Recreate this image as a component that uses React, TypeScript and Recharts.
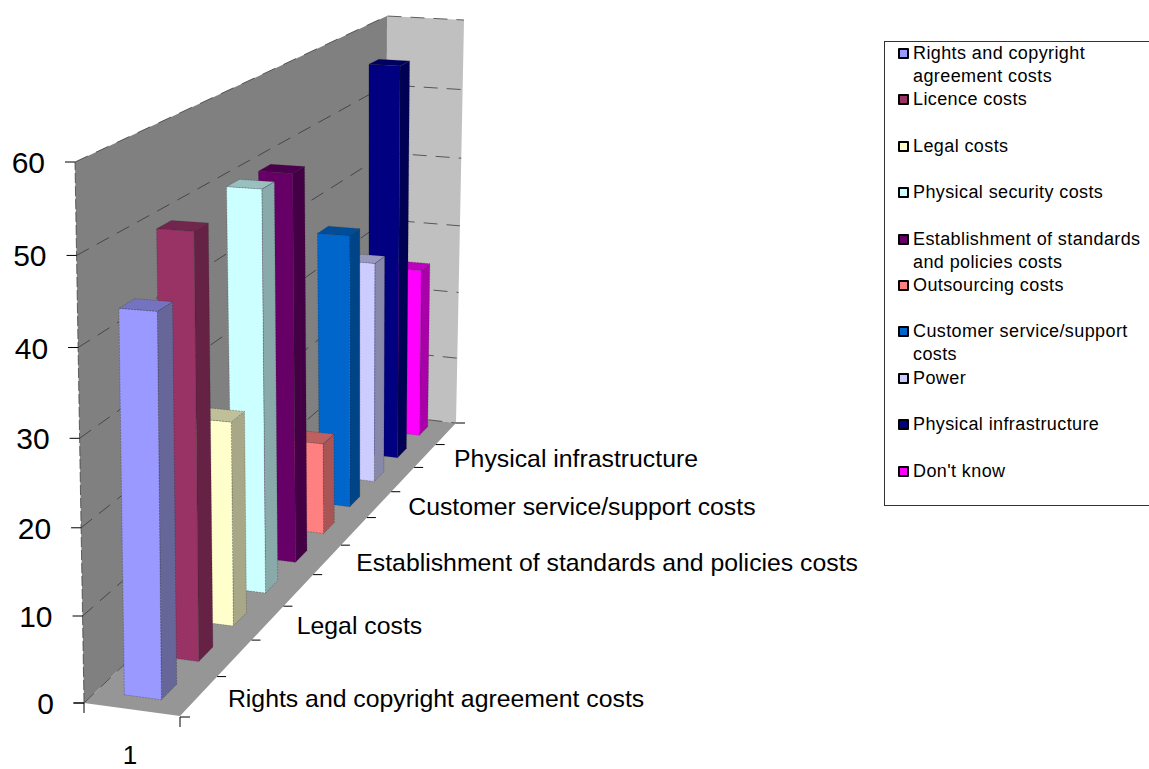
import React from "react";
import { BarChart, Bar, XAxis, YAxis, CartesianGrid, Legend } from "recharts";

const CATEGORIES = [
  "Rights and copyright agreement costs",
  "Licence costs",
  "Legal costs",
  "Physical security costs",
  "Establishment of standards and policies costs",
  "Outsourcing costs",
  "Customer service/support costs",
  "Power",
  "Physical infrastructure",
  "Don't know",
];
const VALUES = [43.7, 50, 25, 50.3, 50, 12.2, 37.3, 31, 56.2, 24.8];
const FRONT_COLORS = ["#9999FF", "#993366", "#FFFFCC", "#CCFFFF", "#660066", "#FF8080", "#0066CC", "#CCCCFF", "#000080", "#FF00FF"];
const TOP_COLORS = ["#7373BF", "#73264D", "#BFBF99", "#99BFBF", "#4D004D", "#BF6060", "#004D99", "#9999BF", "#000060", "#BF00BF"];
const SIDE_COLORS = ["#666699", "#662244", "#A8A888", "#88AAAA", "#440044", "#AA5555", "#004488", "#8888AA", "#000055", "#AA00AA"];
const LEGEND_LINES = [
  ["Rights and copyright", "agreement costs"],
  ["Licence costs"],
  ["Legal costs"],
  ["Physical security costs"],
  ["Establishment of standards", "and policies costs"],
  ["Outsourcing costs"],
  ["Customer service/support", "costs"],
  ["Power"],
  ["Physical infrastructure"],
  ["Don't know"],
];
const Y_TICKS = [0, 10, 20, 30, 40, 50, 60];
const FONT = "'Liberation Sans', Arial, sans-serif";

const WIDTH = 1149;
const HEIGHT = 769;
const PLOT_LEFT = 84;
const PLOT_WIDTH = 300;
const PLOT_TOP = 162;
const PLOT_BOTTOM = 703;

// perspective box: corners in order near-left, near-right, far-left, far-right
type Pt = [number, number];
const FLOOR: Pt[] = [[84, 703], [180, 716], [386, 415], [456, 423]];
const CEILING: Pt[] = [[75, 162], [176, 168], [387, 16], [464, 20]];
const BAR_U0 = 0.295;
const BAR_U1 = 0.685;

function homography(q: Pt[]) {
  const [p0, p1, p2, p3] = q;
  const dx1 = p1[0] - p3[0];
  const dx2 = p2[0] - p3[0];
  const dx3 = p0[0] - p1[0] + p3[0] - p2[0];
  const dy1 = p1[1] - p3[1];
  const dy2 = p2[1] - p3[1];
  const dy3 = p0[1] - p1[1] + p3[1] - p2[1];
  const det = dx1 * dy2 - dx2 * dy1;
  const g = (dx3 * dy2 - dx2 * dy3) / det;
  const h = (dx1 * dy3 - dx3 * dy1) / det;
  return (u: number, v: number): Pt => {
    const w = g * u + h * v + 1;
    return [
      ((p1[0] - p0[0] + g * p1[0]) * u + (p2[0] - p0[0] + h * p2[0]) * v + p0[0]) / w,
      ((p1[1] - p0[1] + g * p1[1]) * u + (p2[1] - p0[1] + h * p2[1]) * v + p0[1]) / w,
    ];
  };
}
const floorAt = homography(FLOOR);
const ceilingAt = homography(CEILING);

// u across the floor, v into the depth, t = share of the axis height
function project(u: number, v: number, t: number): Pt {
  const a = 0.958;
  const f = (t * a) / (1 + (a - 1) * t);
  const b = floorAt(u, v);
  const c = ceilingAt(u, v);
  return [b[0] + (c[0] - b[0]) * f, b[1] + (c[1] - b[1]) * f];
}
const shareOf = (y: number) => (PLOT_BOTTOM - y) / (PLOT_BOTTOM - PLOT_TOP);
const depthOf = (x: number) => (x - PLOT_LEFT) / PLOT_WIDTH;
const pts = (list: Pt[]) => list.map((p) => p.join(",")).join(" ");

const EDGE = { stroke: "#222", strokeOpacity: 0.35, strokeWidth: 0.8, strokeDasharray: "2 1" };

function Bar3D(props: any) {
  const { x, y, width, payload } = props;
  const v0 = depthOf(x);
  const v1 = depthOf(x + width);
  const t = shareOf(y);
  const i = payload.index;
  const a = project(BAR_U0, v0, 0);
  const b = project(BAR_U1, v0, 0);
  const c = project(BAR_U1, v1, 0);
  const d = project(BAR_U0, v0, t);
  const e = project(BAR_U1, v0, t);
  const f = project(BAR_U1, v1, t);
  const g = project(BAR_U0, v1, t);
  return (
    <g>
      <polygon points={pts([b, c, f, e])} fill={SIDE_COLORS[i]} {...EDGE} />
      <polygon points={pts([d, e, f, g])} fill={TOP_COLORS[i]} {...EDGE} />
      <polygon points={pts([a, b, e, d])} fill={FRONT_COLORS[i]} {...EDGE} />
    </g>
  );
}

function Walls() {
  const corner = (u: number, v: number, t: number) => project(u, v, t);
  return (
    <g>
      <polygon points={pts([corner(0, 0, 0), corner(0, 1, 0), corner(0, 1, 1), corner(0, 0, 1)])} fill="#808080" />
      <polygon points={pts([corner(0, 1, 0), corner(1, 1, 0), corner(1, 1, 1), corner(0, 1, 1)])} fill="#C0C0C0" />
      <polygon points={pts([corner(0, 0, 0), corner(1, 0, 0), corner(1, 1, 0), corner(0, 1, 0)])} fill="#969696" />
      <polyline points={pts([corner(0, 0, 0), corner(0, 0, 1)])} fill="none" stroke="#333" strokeOpacity={0.7} strokeWidth={1} strokeDasharray="10 3" />
      {/* category tick marks and label on the front edge */}
      <polyline points={pts([[84, 713], [84, 703], [73, 703]])} fill="none" stroke="#000" />
      <polyline points={pts([[180, 727], [180, 717], [190, 717]])} fill="none" stroke="#000" />
      <text x={130} y={764} textAnchor="middle" fontFamily={FONT} fontSize={26} fill="#000">
        1
      </text>
    </g>
  );
}

function GridLine(props: any) {
  const t = shareOf(props.y1);
  const back = project(0, 1, t);
  return (
    <polyline
      key={props.key ?? props.y1}
      points={pts([project(0, 0, t), back, project(1, 1, t)])}
      fill="none"
      stroke="#333"
      strokeOpacity={0.75}
      strokeWidth={1}
      strokeDasharray="14 9"
    />
  );
}

function ValueTick(props: any) {
  const t = shareOf(props.y);
  const [px, py] = project(0, 0, t);
  return (
    <g>
      <line x1={px - 10} y1={py} x2={px} y2={py} stroke="#000" />
      <text x={px - 30} y={py + 11} textAnchor="end" fontFamily={FONT} fontSize={30} fill="#000">
        {props.payload.value}
      </text>
    </g>
  );
}

function DepthTick(props: any) {
  const name = props.payload.value;
  const i = CATEGORIES.indexOf(name);
  const center = depthOf(props.x);
  const band = 1 / CATEGORIES.length;
  const [mx, my] = project(1, center + band / 2, 0);
  const [lx, ly] = project(1, center, 0);
  return (
    <g>
      <line x1={mx} y1={my} x2={mx + 9} y2={my} stroke="#000" />
      {i % 2 === 0 && (
        <text x={lx + 29} y={ly + 11} fontFamily={FONT} fontSize={24.8} fill="#000">
          {name}
        </text>
      )}
    </g>
  );
}

function LegendBox() {
  return (
    <div
      style={{
        boxSizing: "border-box",
        width: 270,
        height: 465,
        border: "1.5px solid #333",
        background: "#fff",
        fontFamily: FONT,
        fontSize: 18,
        letterSpacing: 0.4,
        lineHeight: "23px",
        color: "#000",
      }}
    >
      {LEGEND_LINES.map((lines, i) => (
        <div key={i} style={{ position: "relative", height: 46.4, paddingLeft: 28 }}>
          <span
            style={{
              position: "absolute",
              left: 13,
              top: 6,
              width: 7,
              height: 7,
              border: "2px solid #000",
              borderRadius: 1,
              background: FRONT_COLORS[i],
            }}
          />
          {lines.map((line) => (
            <div key={line}>{line}</div>
          ))}
        </div>
      ))}
    </div>
  );
}

// drawn back to front so the nearest bar ends up on top
const data = CATEGORIES.map((name, index) => ({ name, index, value: VALUES[index] })).reverse();

export default function App() {
  return (
    <div style={{ position: "absolute", left: 0, top: 0, width: WIDTH, height: HEIGHT, overflow: "hidden" }}>
      <BarChart
        width={WIDTH}
        height={HEIGHT}
        data={data}
        barCategoryGap="30%"
        margin={{ top: PLOT_TOP, left: 0, right: WIDTH - PLOT_LEFT - PLOT_WIDTH, bottom: 36 }}
      >
        <Walls />
        <CartesianGrid vertical={false} horizontal={GridLine as any} horizontalValues={Y_TICKS} zIndex={1} />
        <XAxis dataKey="name" reversed interval={0} height={30} axisLine={false} tickLine={false} tick={DepthTick as any} />
        <YAxis width={PLOT_LEFT} domain={[0, 60]} ticks={Y_TICKS} interval={0} axisLine={false} tickLine={false} tick={ValueTick as any} />
        <Legend
          layout="horizontal"
          align="center"
          verticalAlign="middle"
          content={<LegendBox />}
          wrapperStyle={{ position: "absolute", left: 884, top: 41, width: 270, height: 465 }}
        />
        <Bar dataKey="value" isAnimationActive={false} shape={Bar3D as any} />
      </BarChart>
    </div>
  );
}
